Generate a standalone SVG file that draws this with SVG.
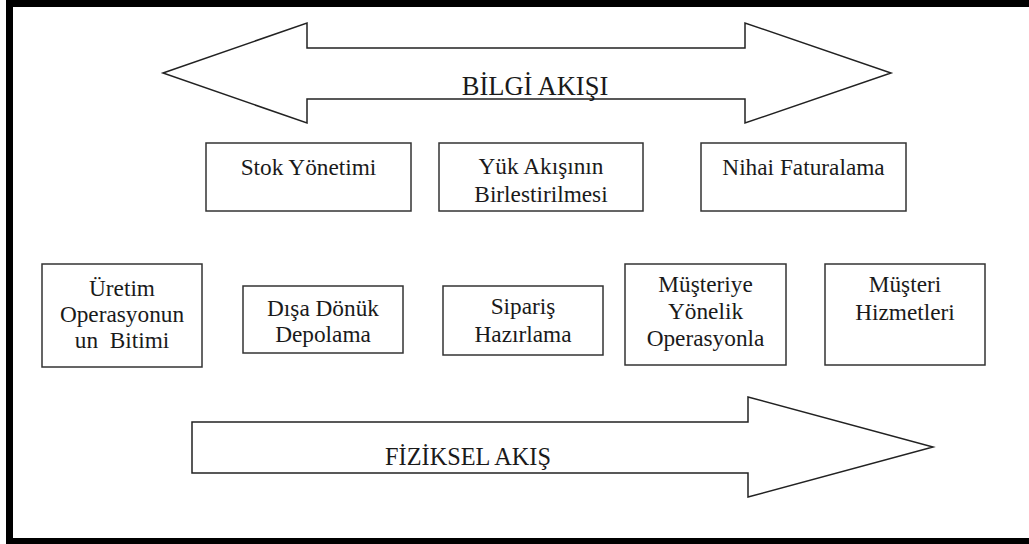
<svg xmlns="http://www.w3.org/2000/svg" width="1029" height="544" viewBox="0 0 1029 544">
<style>
.box{fill:#fff;stroke:#333;stroke-width:1.5}
.arrow{fill:#fff;stroke:#222;stroke-width:1.5;stroke-linejoin:miter}
.lbl{font-family:"Liberation Serif","Times New Roman",serif;fill:#1a1a1a;text-anchor:middle}
.t{font-size:23.3px}
</style>
<rect x="0" y="0" width="1029" height="544" fill="#fff"/>
<g id="frame" fill="#000">
<rect x="6" y="0" width="1023" height="7"/>
<rect x="6" y="0" width="7" height="544"/>
<rect x="6" y="538" width="1023" height="6"/>
</g>
<g id="connectors">
<g id="bilgi-akisi">
<polygon class="arrow" points="163,73 307,23 307,48 745,48 745,23 891,73 745,123 745,99 307,99 307,123"/>
<text class="lbl" font-family="Liberation Serif, serif" font-size="26.5" x="535" y="95">BİLGİ AKIŞI</text>
</g>
<g id="fiziksel-akis">
<polygon class="arrow" points="192,422 748,422 748,397 933,447 748,497 748,473 192,473"/>
<text class="lbl" font-family="Liberation Serif, serif" font-size="24.3" x="468" y="465">FİZİKSEL AKIŞ</text>
</g>
</g>
<g id="nodes" class="lbl t" font-family="Liberation Serif, serif">
<g id="stok">
<rect class="box" x="206" y="143" width="205" height="68"/>
<text class="lbl t" x="308.5" y="175">Stok Yönetimi</text>
</g>
<g id="yuk">
<rect class="box" x="439" y="143" width="204" height="68"/>
<text class="lbl t" x="541" y="174">Yük Akışının</text>
<text class="lbl t" x="541" y="202">Birlestirilmesi</text>
</g>
<g id="nihai">
<rect class="box" x="701" y="143" width="205" height="68"/>
<text class="lbl t" x="803.5" y="175">Nihai Faturalama</text>
</g>
<g id="uretim">
<rect class="box" x="42" y="264" width="160" height="103"/>
<text class="lbl t" x="122" y="296">Üretim</text>
<text class="lbl t" x="122" y="322">Operasyonun</text>
<text class="lbl t" x="122" y="348" xml:space="preserve">un  Bitimi</text>
</g>
<g id="disa">
<rect class="box" x="243" y="286" width="160" height="67"/>
<text class="lbl t" x="323" y="316">Dışa Dönük</text>
<text class="lbl t" x="323" y="342">Depolama</text>
</g>
<g id="siparis">
<rect class="box" x="443" y="286" width="160" height="69"/>
<text class="lbl t" x="523" y="314">Sipariş</text>
<text class="lbl t" x="523" y="342">Hazırlama</text>
</g>
<g id="musteriye">
<rect class="box" x="625" y="264" width="161" height="101"/>
<text class="lbl t" x="705.5" y="292">Müşteriye</text>
<text class="lbl t" x="705.5" y="319">Yönelik</text>
<text class="lbl t" x="705.5" y="346">Operasyonla</text>
</g>
<g id="musteri">
<rect class="box" x="825" y="264" width="160" height="101"/>
<text class="lbl t" x="905" y="292">Müşteri</text>
<text class="lbl t" x="905" y="320">Hizmetleri</text>
</g>
</g>
</svg>
